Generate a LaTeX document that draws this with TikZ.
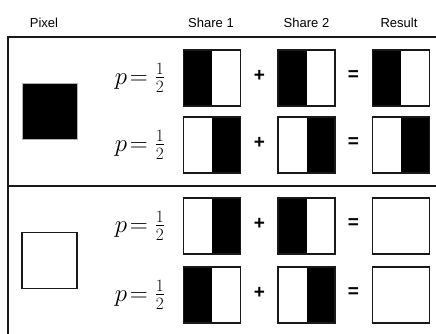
\documentclass[tikz,border=0pt]{standalone}
\usepackage{amsmath}
\usepackage{fontspec}
\newfontfamily\arial{Liberation Sans}
\usepackage{tikz}
\tikzset{frame/.style={line width=1.4pt,draw=black!90}}
\tikzset{halfbox/.style 2 args={draw=black!90,line width=1.2pt,
                       minimum width=57pt,minimum height=56pt,inner sep=0pt,
                       path picture={
                         \fill[#1] (path picture bounding box.south west) rectangle (path picture bounding box.north);
                         \fill[#2] (path picture bounding box.south) rectangle (path picture bounding box.north east);}}}
\tikzset{pixel/.style={minimum width=55pt,minimum height=56pt,inner sep=0pt}}

\begin{document}
\begin{tikzpicture}[x=1pt,y=-1pt]
    \tikzstyle{head}=[font=\arial\fontsize{13}{15}\selectfont,anchor=base]
    \tikzstyle{op}=[font=\arial\bfseries\fontsize{19}{22}\selectfont]
    \tikzstyle{prob}=[font=\fontsize{23}{27}\selectfont]
    \useasboundingbox (0,0) rectangle (436,334);

    % Column headings
    \foreach \name / \x / \txt in {pixel/44/Pixel,one/211/Share 1,two/306.5/Share 2,res/399/Result}
        \node[head] (hd-\name) at (\x,28) {\txt};

    % Table lines
    \draw[frame] (436,37) -- (8,37) -- (8,334);
    \draw[frame] (8,186) -- (436,186);

    % The two pixels
    \node[pixel,fill=black,draw=gray!60,line width=0.6pt] (px-black) at (49.5,111) {};
    \node[pixel,draw=black!90,line width=1.4pt] (px-white) at (49.5,260.5) {};

    % One row per choice: share 1 + share 2 = result
    \foreach \n / \y / \a / \b / \c / \d / \e / \f in
        {1/78/black/white/black/white/black/white,
         2/145/white/black/white/black/white/black,
         3/226/white/black/black/white/white/white,
         4/295/black/white/white/black/white/white}
    {
        \node[prob] (p-\n) at (140,\y) {$p\!=\frac{1}{2}$};
        \node[halfbox={\a}{\b}] (s1-\n) at (212,\y) {};
        \node[op] (plus-\n) at (259.5,\y-2) {+};
        \node[halfbox={\c}{\d}] (s2-\n) at (306.5,\y) {};
        \node[op] (eq-\n) at (353.5,\y-2) {=};
        \node[halfbox={\e}{\f}] (r-\n) at (401,\y) {};
    }
\end{tikzpicture}
\end{document}
